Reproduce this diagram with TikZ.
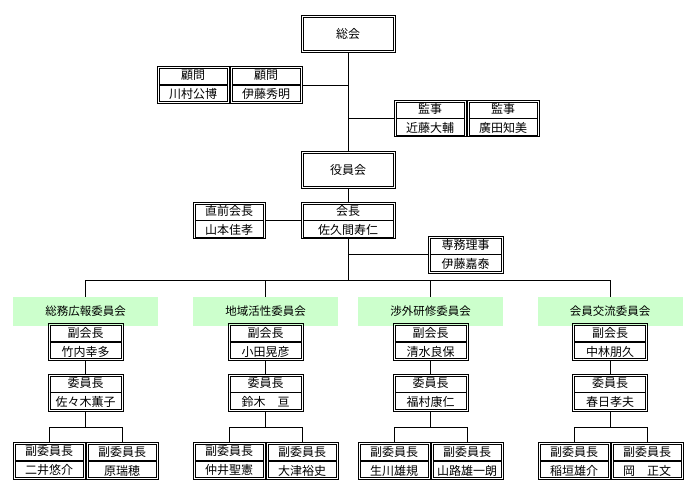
\documentclass[tikz,border=0pt]{standalone}
\usepackage{fontspec}
\setmainfont{Noto Sans CJK JP}
\begin{document}
\begin{tikzpicture}[x=1pt,y=-1pt]
    \tikzstyle{post}=[draw=black,line width=0.7pt,inner sep=0pt,align=center,font=\fontsize{12}{19}\selectfont,minimum width=72pt,minimum height=36.5pt]
    \tikzstyle{chief}=[post,minimum width=75pt,minimum height=37pt]
    \tikzstyle{wide}=[post,minimum width=94pt]
    \tikzstyle{dept}=[fill=green!20,inner sep=0pt,minimum width=145pt,minimum height=29pt,font=\fontsize{11.5}{14}\selectfont]
    \tikzstyle{inner}=[line width=0.7pt]
    \tikzstyle{sep}=[line width=1.8pt,shorten <=2.2pt,shorten >=2.2pt]
    \tikzstyle{wire}=[line width=0.7pt]
    \useasboundingbox (0,0) rectangle (695,497);
    % top
    \node[wide] (soukai) at (348,34) {総会};
    \node[post] (komonA) at (193,85) {顧問\\川村公博};
    \node[post] (komonB) at (266,85) {顧問\\伊藤秀明};
    \node[post] (kanjiA) at (430,118.5) {監事\\近藤大輔};
    \node[post] (kanjiB) at (503,118.5) {監事\\廣田知美};
    \node[wide] (yakuin) at (348,170) {役員会};
    \node[post] (zenkai) at (229,220.5) {直前会長\\山本佳孝};
    \node[wide] (kaicho) at (348,220.5) {会長\\佐久間寿仁};
    \node[chief] (senmu) at (465.5,254.5) {専務理事\\伊藤嘉泰};
    % committees
    \node[dept] (bu1) at (85.5,311.5) {総務広報委員会};
    \node[dept] (bu2) at (265.5,311.5) {地域活性委員会};
    \node[dept] (bu3) at (430.5,311.5) {渉外研修委員会};
    \node[dept] (bu4) at (610,311.5) {会員交流委員会};
    \node[chief] (fuku1) at (85.5,342) {副会長\\竹内幸多};
    \node[chief] (fuku2) at (265.5,342) {副会長\\小田晃彦};
    \node[chief] (fuku3) at (430.5,342) {副会長\\清水良保};
    \node[chief] (fuku4) at (610,342) {副会長\\中林朋久};
    \node[chief] (cho1) at (85.5,392.5) {委員長\\佐々木薫子};
    \node[chief] (cho2) at (265.5,392.5) {委員長\\鈴木　亘};
    \node[chief] (cho3) at (430.5,392.5) {委員長\\福村康仁};
    \node[chief] (cho4) at (610,392.5) {委員長\\春日孝夫};
    \node[post] (sub1a) at (49,461) {副委員長\\二井悠介};
    \node[post] (sub1b) at (122,461) {副委員長\\原瑞穂};
    \node[post] (sub2a) at (229,461) {副委員長\\仲井聖憲};
    \node[post] (sub2b) at (302,461) {副委員長\\大津裕史};
    \node[post] (sub3a) at (394,461) {副委員長\\生川雄規};
    \node[post] (sub3b) at (467,461) {副委員長\\山路雄一朗};
    \node[post] (sub4a) at (574,461) {副委員長\\稲垣雄介};
    \node[post] (sub4b) at (647,461) {副委員長\\岡　正文};
    % double frames and middle rules
    \foreach \n in {soukai,yakuin,komonA,komonB,kanjiA,kanjiB,zenkai,kaicho,senmu,fuku1,fuku2,fuku3,fuku4,cho1,cho2,cho3,cho4,sub1a,sub1b,sub2a,sub2b,sub3a,sub3b,sub4a,sub4b}
        \draw[inner] ([shift={(2.2pt,-2.2pt)}]\n.north west) rectangle ([shift={(-2.2pt,2.2pt)}]\n.south east);
    \foreach \n in {komonA,komonB,kanjiA,kanjiB,zenkai,kaicho,senmu,fuku1,fuku2,fuku3,fuku4,cho1,cho2,cho3,cho4,sub1a,sub1b,sub2a,sub2b,sub3a,sub3b,sub4a,sub4b}
        \draw[sep] (\n.west) -- (\n.east);
    % connectors
    \coordinate (bus) at (348,280);
    \draw[wire] (soukai.south) -- (yakuin.north);
    \draw[wire] (komonB.east) -- (soukai.south |- komonB.east);
    \draw[wire] (soukai.south |- kanjiA.west) -- (kanjiA.west);
    \draw[wire] (yakuin.south) -- (kaicho.north);
    \draw[wire] (zenkai.east) -- (kaicho.west);
    \draw[wire] (kaicho.south) -- (bus);
    \draw[wire] (kaicho.south |- senmu.west) -- (senmu.west);
    \draw[wire] (bu1.north |- bus) -- (bu4.north |- bus);
    \foreach \i in {1,2,3,4} {
        \draw[wire] (bu\i.north |- bus) -- (bu\i.north);
        \draw[wire] (fuku\i.south) -- (cho\i.north);
        \coordinate (fork\i) at ([yshift=-16pt]cho\i.south);
        \draw[wire] (cho\i.south) -- (fork\i);
        \draw[wire] (sub\i a.north) -- (sub\i a.north |- fork\i) -- (sub\i b.north |- fork\i) -- (sub\i b.north);
    }
\end{tikzpicture}
\end{document}
